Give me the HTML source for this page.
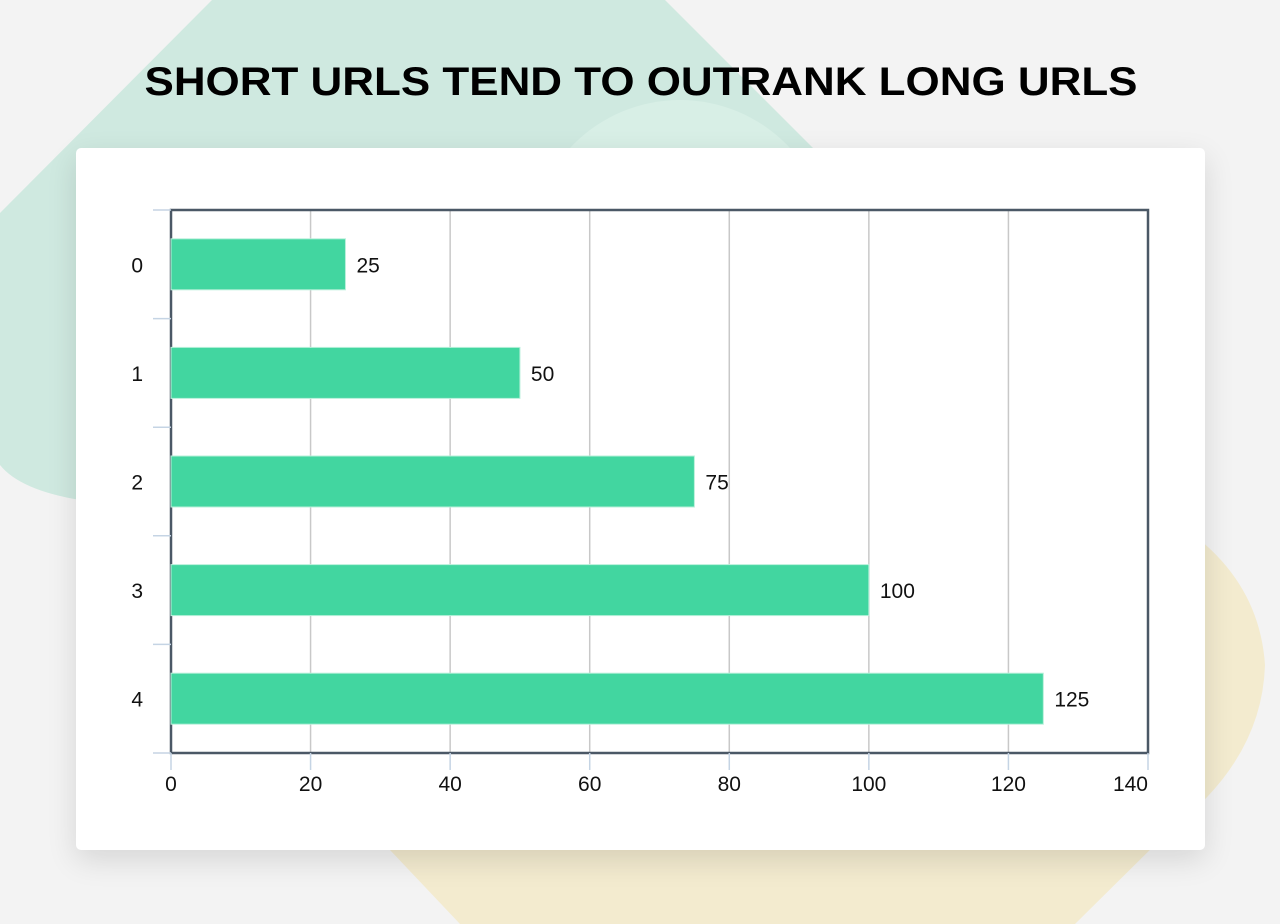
<!DOCTYPE html>
<html><head><meta charset="utf-8"><style>
html,body{margin:0;padding:0;width:1280px;height:924px;overflow:hidden;background:#f3f3f3;font-family:"Liberation Sans",sans-serif}
#bg{position:absolute;left:0;top:0}
#card{position:absolute;left:76px;top:148px;width:1129px;height:702px;background:#fff;border-radius:5px;box-shadow:0 10px 30px rgba(0,0,0,0.12)}
#chart{position:absolute;left:0;top:0}
</style></head><body>
<svg id="bg" width="1280" height="924">
  <path d="M212,0 L665,0 L830,165 L830,500 L80,500 Q20,490 0,465 L0,213 Z" fill="#cfe9e0"/>
  <circle cx="680" cy="250" r="150" fill="#d8efe6"/>
  <path d="M390,850 L1200,850 L1200,540 Q1260,590 1265,665 Q1262,760 1170,830 L1075,924 L460,924 Z" fill="#f3ebcf"/>
</svg>
<div id="card"></div>
<svg id="chart" width="1280" height="924">
  <text x="641" y="95" text-anchor="middle" font-size="40" font-weight="bold" textLength="993" lengthAdjust="spacingAndGlyphs" fill="#000">SHORT URLS TEND TO OUTRANK LONG URLS</text>
  <g id="grid"></g><g id="bars"></g><g id="axes"></g>
</svg>
<script>
const categories = ["0","1","2","3","4"];
const values = [25, 50, 75, 100, 125];
const xTicks = [0, 20, 40, 60, 80, 100, 120, 140];
const NS = "http://www.w3.org/2000/svg";
const X0 = 171, X1 = 1148, Y0 = 210, Y1 = 753, XMAX = 140;
function xs(v){ return X0 + (v / XMAX) * (X1 - X0); }
const band = (Y1 - Y0) / categories.length;
function yc(i){ return Y0 + band * (i + 0.5); }
function mk(tag, attrs, parent){ const e = document.createElementNS(NS, tag); for (const k in attrs) e.setAttribute(k, attrs[k]); parent.appendChild(e); return e; }
const grid = document.getElementById("grid"), bars = document.getElementById("bars"), axes = document.getElementById("axes");
xTicks.forEach((t, i) => {
  const x = xs(t);
  if (t > 0 && t < XMAX) {
    const g = mk("line", {x1:x, x2:x, y1:Y0, y2:Y1, stroke:"#c8c8c8", "stroke-width":1.5}, grid);
    
    
  }
  const tk = mk("line", {x1:x, x2:x, y1:Y1, y2:Y1+17, stroke:"#c5d4e4", "stroke-width":1.5}, axes);
  
  
  const lb = mk("text", {x: t === XMAX ? x : x, y: 791, "text-anchor": t === XMAX ? "end" : "middle", "font-size": 21, fill:"#111"}, axes);
  lb.textContent = t;
  
  
});
for (let i = 0; i <= categories.length; i++) {
  const y = Y0 + band * i;
  const tk = mk("line", {x1:153, x2:X0, y1:y, y2:y, stroke:"#c5d4e4", "stroke-width":1.5}, axes);
  
  
}
const frame = mk("rect", {x:X0, y:Y0, width:X1-X0, height:Y1-Y0, fill:"none", stroke:"#4b5866", "stroke-width":2.5}, grid);


categories.forEach((c, i) => {
  const y = yc(i), h = 51;
  const r = mk("rect", {x:X0, y:y-h/2, width:xs(values[i])-X0, height:h, fill:"#42d6a0", stroke:"#b8f0da", "stroke-width":1}, bars);
  
  
  const v = mk("text", {x:xs(values[i])+11, y:y+8, "font-size":21, fill:"#111"}, bars);
  v.textContent = values[i];
  
  
  const l = mk("text", {x:143, y:y+8, "text-anchor":"end", "font-size":21, fill:"#111"}, axes);
  l.textContent = c;
  
  
});
</script>
</body></html>
